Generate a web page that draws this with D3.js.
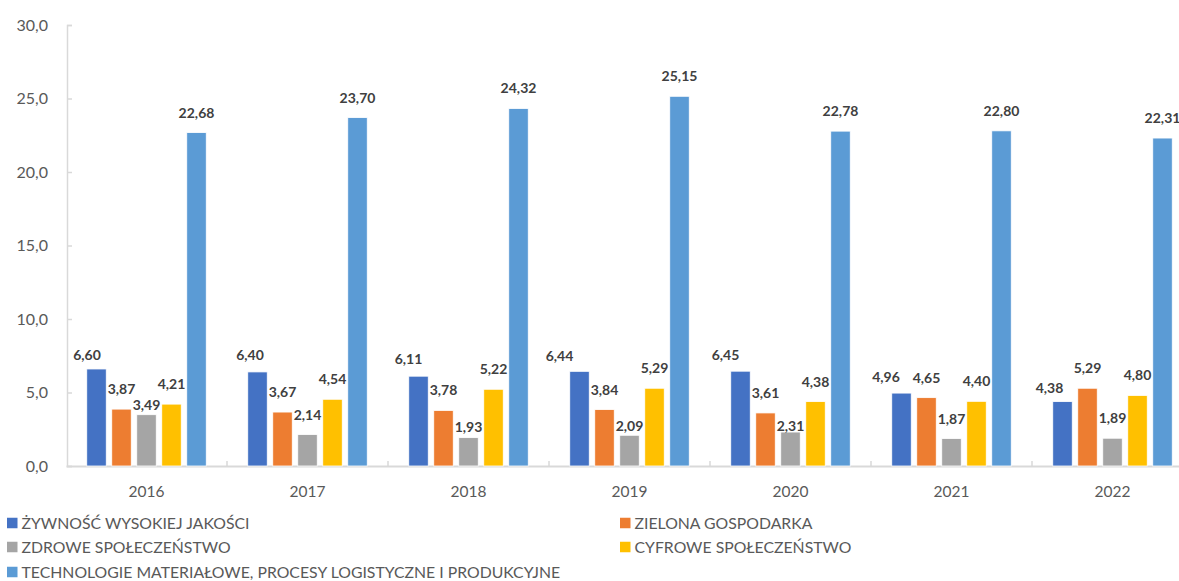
<!DOCTYPE html>
<html>
<head>
<meta charset="utf-8">
<script src="https://cdn.jsdelivr.net/npm/d3@7"></script>
<style>
  html, body { margin: 0; padding: 0; background: #fff; }
  svg { display: block; }
  text { font-family: Lato, "Open Sans", sans-serif; }
</style>
</head>
<body>
<svg id="chart" width="1179" height="581"></svg>
<script>
// Years on the category axis
const years = ["2016", "2017", "2018", "2019", "2020", "2021", "2022"];

// Series names (legend order)
const seriesNames = [
  "ŻYWNOŚĆ WYSOKIEJ JAKOŚCI",
  "ZIELONA GOSPODARKA",
  "ZDROWE SPOŁECZEŃSTWO",
  "CYFROWE SPOŁECZEŃSTWO",
  "TECHNOLOGIE MATERIAŁOWE, PROCESY LOGISTYCZNE I PRODUKCYJNE"
];

// Values per series, one per year
const zywnosc     = [6.60, 6.40, 6.11, 6.44, 6.45, 4.96, 4.38];
const zielona     = [3.87, 3.67, 3.78, 3.84, 3.61, 4.65, 5.29];
const zdrowe      = [3.49, 2.14, 1.93, 2.09, 2.31, 1.87, 1.89];
const cyfrowe     = [4.21, 4.54, 5.22, 5.29, 4.38, 4.40, 4.80];
const technologie = [22.68, 23.70, 24.32, 25.15, 22.78, 22.80, 22.31];

// Y axis tick values
const yTicks = [0, 5, 10, 15, 20, 25, 30];

const seriesValues = [zywnosc, zielona, zdrowe, cyfrowe, technologie];
const colors = ["#4472C4", "#ED7D31", "#A5A5A5", "#FFC000", "#5B9BD5"];

const fmt1 = d => d3.format(".1f")(d).replace(".", ",");
const fmt2 = d => d3.format(".2f")(d).replace(".", ",");

const svg = d3.select("#chart");

const x0 = d3.scaleBand().domain(years).range([66, 1193]).paddingInner(0).paddingOuter(0);
const slot = 25;
const x1 = d3.scaleBand().domain(d3.range(5)).range([0, slot * 5]);
const groupOffset = (x0.bandwidth() - slot * 5) / 2;
const y = d3.scaleLinear().domain([0, 30]).range([466, 25]);

// Y axis: line on the left, short ticks pointing into the plot
const yAxis = svg.append("g").attr("transform", "translate(67,0)")
  .call(d3.axisRight(y).tickValues(yTicks).tickSize(5).tickFormat(""));
yAxis.select(".domain").attr("stroke", "#d9d9d9").attr("stroke-width", 1.5);
yAxis.selectAll(".tick line").attr("stroke", "#d9d9d9").attr("stroke-width", 1.5);

svg.append("g").selectAll("text").data(yTicks).join("text")
  .attr("x", 48).attr("y", d => y(d)).attr("dy", "0.35em")
  .attr("text-anchor", "end").attr("font-size", 16).attr("fill", "#595959")
  .text(fmt1);

// X axis: baseline and group separators pointing up
const xAxis = svg.append("g").attr("transform", "translate(0,466)")
  .call(d3.axisTop(x0).tickSize(0).tickFormat(""));
xAxis.select(".domain").attr("stroke", "#d9d9d9").attr("stroke-width", 2);
xAxis.selectAll(".tick").remove();
svg.append("g").selectAll("line").data(years.slice(1)).join("line")
  .attr("x1", d => x0(d)).attr("x2", d => x0(d))
  .attr("y1", 461).attr("y2", 466)
  .attr("stroke", "#d9d9d9").attr("stroke-width", 1.5);

svg.append("g").selectAll("text").data(years).join("text")
  .attr("x", d => x0(d) + x0.bandwidth() / 2).attr("y", 492).attr("dy", "0.35em")
  .attr("text-anchor", "middle").attr("font-size", 15.5).attr("fill", "#595959")
  .text(d => d);

// Bars
const cells = [];
years.forEach((yr, gi) => {
  seriesValues.forEach((vals, si) => cells.push({ yr, gi, si, v: vals[gi] }));
});
const barW = 19.5;
const barX = d => x0(d.yr) + groupOffset + x1(d.si) + (slot - barW) / 2;

svg.append("g").selectAll("rect").data(cells).join("rect")
  .attr("x", barX).attr("width", barW)
  .attr("y", d => y(d.v)).attr("height", d => y(0) - y(d.v))
  .attr("fill", d => colors[d.si])
  .attr("stroke", "#fff").attr("stroke-width", 0.8);

// Value labels; a few are shifted so neighbouring labels do not collide
const labelShift = {
  "2016|0": [-9.5, 6], "2016|2": [0, 10],
  "2017|0": [-7.5, 3],
  "2018|0": [-10, 3], "2018|2": [0, 9],
  "2019|0": [-20, 5], "2019|2": [0, 11],
  "2020|0": [-15, 4], "2020|2": [0, 14],
  "2021|0": [-15.5, 4],
  "2022|0": [-13, 6]
};
svg.append("g").selectAll("text").data(cells).join("text")
  .attr("x", d => barX(d) + barW / 2 + (labelShift[d.yr + "|" + d.si] || [0, 0])[0])
  .attr("y", d => y(d.v) - 15 + (labelShift[d.yr + "|" + d.si] || [0, 0])[1])
  .attr("text-anchor", "middle").attr("font-size", 14).attr("font-weight", 700)
  .attr("fill", "#404040")
  .text(d => fmt2(d.v));

// Legend: two columns, last entry on its own row
const legendPos = [[7, 523], [620, 523], [7, 547], [620, 547], [7, 572]];
const lg = svg.append("g").selectAll("g").data(seriesNames).join("g")
  .attr("transform", (d, i) => `translate(${legendPos[i][0]},${legendPos[i][1]})`);
lg.append("rect").attr("x", 0).attr("y", -5.25).attr("width", 10.5).attr("height", 10.5)
  .attr("fill", (d, i) => colors[i]);
lg.append("text").attr("x", 14.5).attr("y", 0).attr("dy", "0.35em")
  .attr("font-size", 15.8).attr("fill", "#595959").text(d => d);
</script>
</body>
</html>
